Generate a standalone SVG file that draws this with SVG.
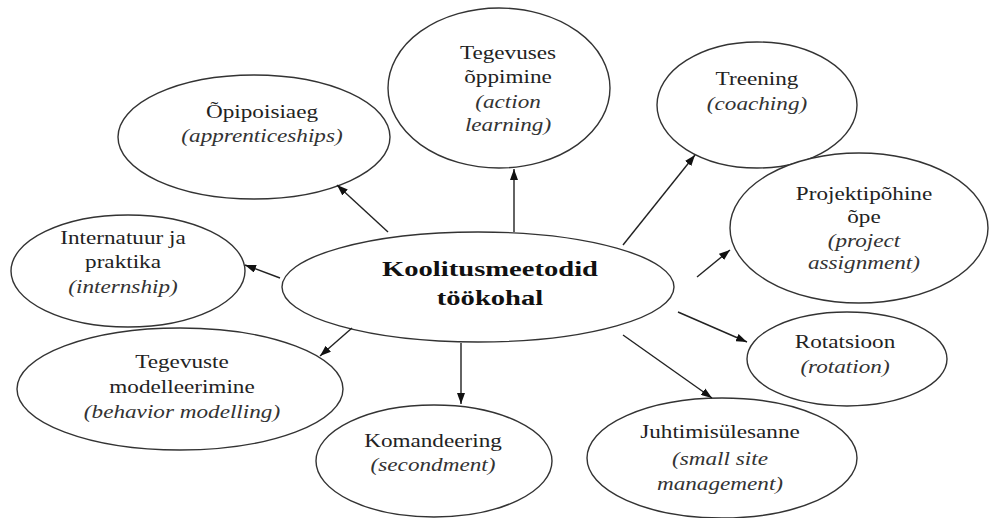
<svg xmlns="http://www.w3.org/2000/svg" width="989" height="518" viewBox="0 0 989 518">
<style>
.node ellipse{fill:#fff;stroke:#333;stroke-width:1.4}
.t{font-family:'Liberation Serif','DejaVu Serif',serif;font-size:19px;fill:#222;text-anchor:middle}
.i{font-style:italic;fill:#333}
.c{font-family:'Liberation Serif','DejaVu Serif',serif;font-size:22px;font-weight:bold;fill:#111;text-anchor:middle}
.conn line{stroke:#222;stroke-width:1.4;marker-end:url(#ah)}
</style>
<defs>
<marker id="ah" markerUnits="userSpaceOnUse" markerWidth="11" markerHeight="8" refX="11" refY="4" orient="auto">
<path d="M0,0 L11,4 L0,8 z" fill="#111"/>
</marker>
</defs>
<rect width="989" height="518" fill="#fff"/>
<g id="n-opipoisiaeg" class="node">
<ellipse cx="254" cy="137" rx="136" ry="62"/>
<g transform="translate(262,0) scale(1.22,1)"><text class="t" x="0" y="118">Õpipoisiaeg</text><text class="t i" x="0" y="142">(apprenticeships)</text></g>
</g>
<g id="n-tegevuses" class="node">
<ellipse cx="499" cy="88" rx="111" ry="80"/>
<g transform="translate(508,0) scale(1.22,1)"><text class="t" x="0" y="59">Tegevuses</text><text class="t" x="0" y="83">õppimine</text><text class="t i" x="0" y="108">(action</text><text class="t i" x="0" y="131">learning)</text></g>
</g>
<g id="n-treening" class="node">
<ellipse cx="757" cy="105" rx="100" ry="63"/>
<g transform="translate(757,0) scale(1.22,1)"><text class="t" x="0" y="85">Treening</text><text class="t i" x="0" y="110">(coaching)</text></g>
</g>
<g id="n-projekt" class="node">
<ellipse cx="859" cy="228" rx="129" ry="75"/>
<g transform="translate(864,0) scale(1.22,1)"><text class="t" x="0" y="200">Projektipõhine</text><text class="t" x="0" y="223">õpe</text><text class="t i" x="0" y="247">(project</text><text class="t i" x="0" y="269">assignment)</text></g>
</g>
<g id="n-internatuur" class="node">
<ellipse cx="128" cy="271" rx="117" ry="56"/>
<g transform="translate(123,0) scale(1.22,1)"><text class="t" x="0" y="244">Internatuur ja</text><text class="t" x="0" y="268">praktika</text><text class="t i" x="0" y="293">(internship)</text></g>
</g>
<g id="n-modelleerimine" class="node">
<ellipse cx="180" cy="389" rx="163" ry="61"/>
<g transform="translate(182,0) scale(1.22,1)"><text class="t" x="0" y="368">Tegevuste</text><text class="t" x="0" y="393">modelleerimine</text><text class="t i" x="0" y="418">(behavior modelling)</text></g>
</g>
<g id="n-komandeering" class="node">
<ellipse cx="434" cy="461" rx="118" ry="56"/>
<g transform="translate(433,0) scale(1.22,1)"><text class="t" x="0" y="447">Komandeering</text><text class="t i" x="0" y="471">(secondment)</text></g>
</g>
<g id="n-juhtimis" class="node">
<ellipse cx="722" cy="458" rx="135" ry="60"/>
<g transform="translate(720,0) scale(1.22,1)"><text class="t" x="0" y="438">Juhtimisülesanne</text><text class="t i" x="0" y="465">(small site</text><text class="t i" x="0" y="490">management)</text></g>
</g>
<g id="n-rotatsioon" class="node">
<ellipse cx="847" cy="359" rx="100" ry="47"/>
<g transform="translate(845,0) scale(1.22,1)"><text class="t" x="0" y="348">Rotatsioon</text><text class="t i" x="0" y="373">(rotation)</text></g>
</g>
<g id="n-center" class="node">
<ellipse cx="478" cy="287" rx="196" ry="55"/>
<g transform="translate(490,0) scale(1.3,1)"><text class="c" x="0" y="276">Koolitusmeetodid</text><text class="c" x="0" y="305">töökohal</text></g>
</g>
<g id="connectors" class="conn">
<line x1="388" y1="232" x2="337" y2="185"/>
<line x1="514" y1="232" x2="514" y2="169"/>
<line x1="623" y1="245" x2="695" y2="155"/>
<line x1="697" y1="277" x2="730" y2="250"/>
<line x1="678" y1="312" x2="747" y2="342"/>
<line x1="623" y1="335" x2="712" y2="398"/>
<line x1="461" y1="343" x2="461" y2="404"/>
<line x1="352" y1="328" x2="320" y2="356"/>
<line x1="280" y1="278" x2="245" y2="265"/>
</g>
</svg>
